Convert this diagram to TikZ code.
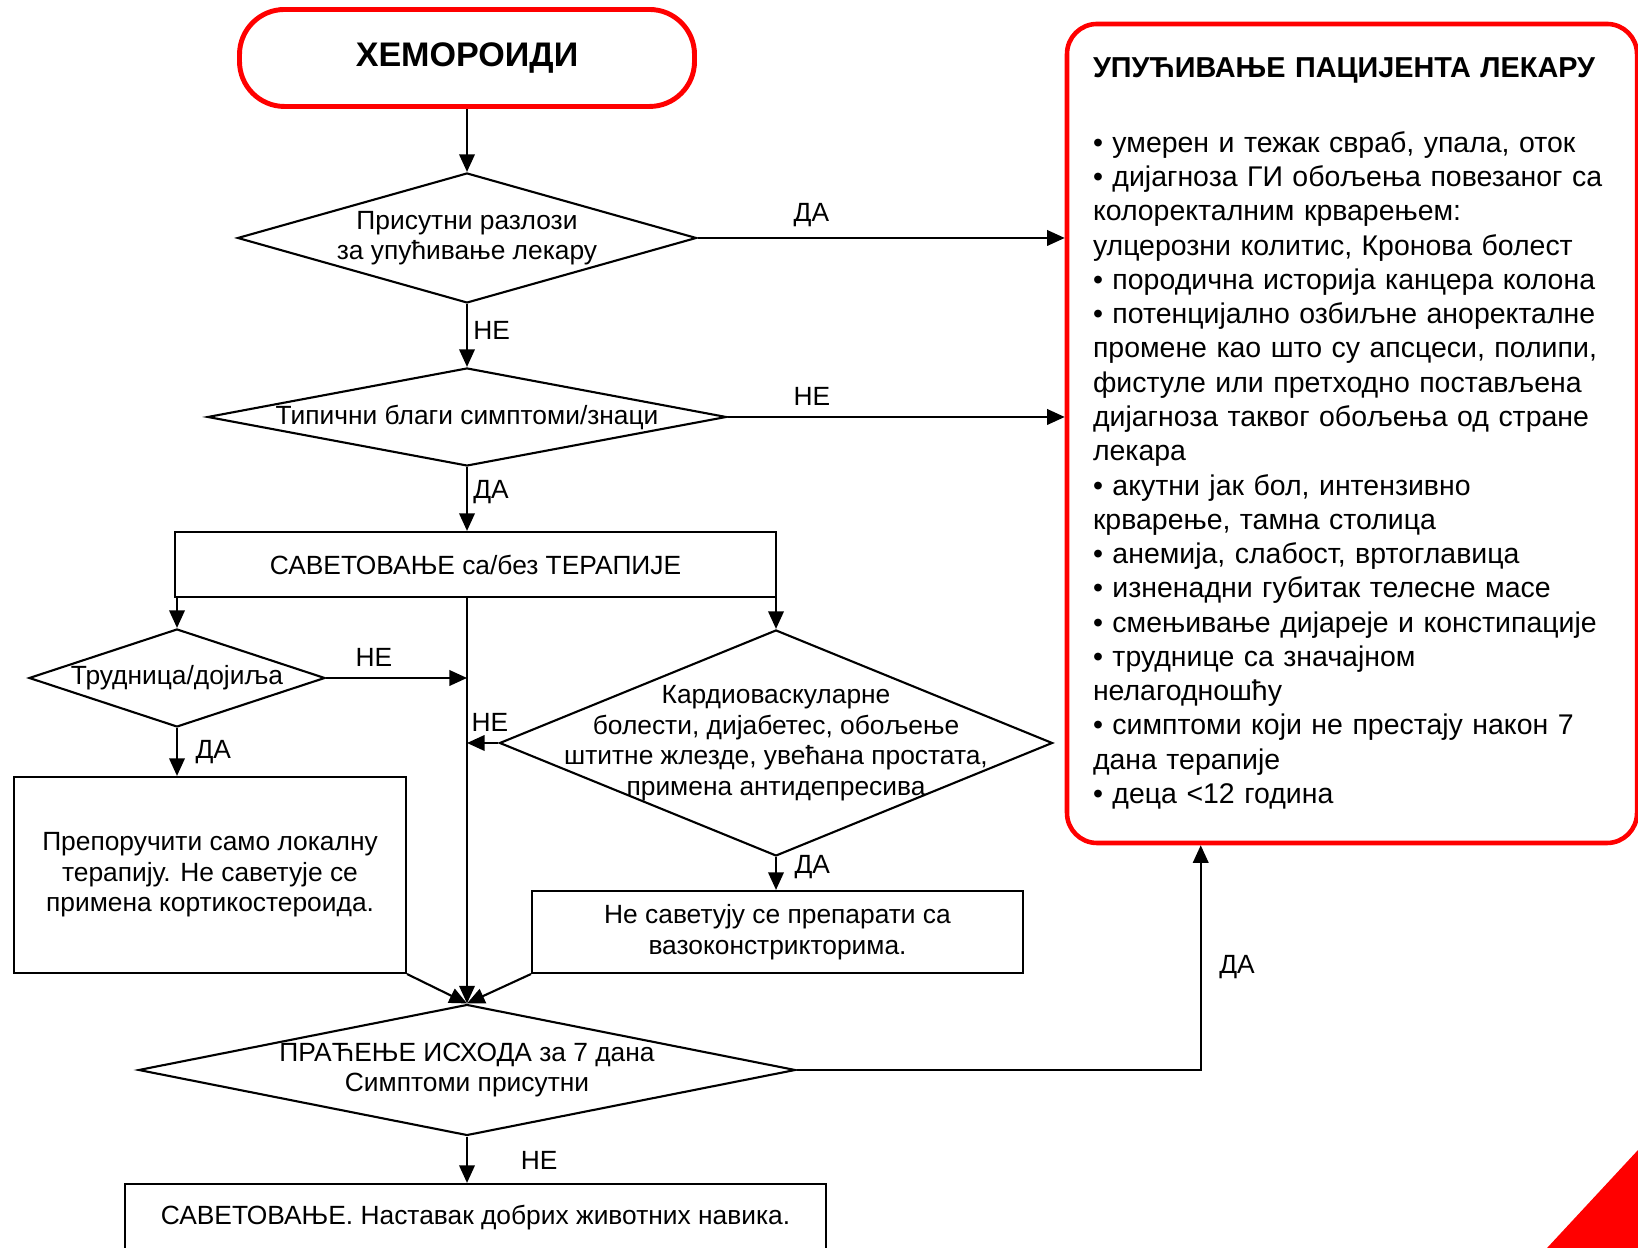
\documentclass[tikz,border=0pt]{standalone}
\usepackage{fontspec}
\setmainfont{Liberation Sans}
\usetikzlibrary{arrows.meta,shapes.geometric,calc}
\definecolor{ink}{HTML}{000000}
\definecolor{alarm}{HTML}{FF0000}

\begin{document}
\begin{tikzpicture}[x=1cm,y=1cm,
  font=\fontsize{7.5}{8.7}\selectfont, text=ink,
  flow/.style={-{Triangle[length=5pt,width=4.4pt]}, line width=0.6pt, draw=ink},
  box/.style={draw=ink, line width=0.6pt, align=center, inner sep=2pt},
  test/.style={diamond, draw=ink, line width=0.6pt, align=center,
               inner xsep=-2.5cm, inner ysep=-0.6cm},
  term/.style={draw=alarm, line width=1.4pt, rounded corners=0.45cm, align=center,
               font=\fontsize{9.7}{11}\selectfont\bfseries},
  refer/.style={draw=alarm, line width=1.3pt, rounded corners=0.3cm, align=left,
                font=\fontsize{8.1}{9.75}\selectfont},
  ans/.style={inner sep=1pt}]

\path[use as bounding box] (0,0) rectangle (16.38,12.48);

% ------------------------------------------------------------------ main column
\node[term, minimum width=4.55cm, minimum height=0.97cm] (start) at (4.67,11.90)
  {ХЕМОРОИДИ};
\node[test, minimum width=4.59cm, minimum height=1.30cm] (q1) at (4.67,10.10)
  {Присутни разлози\\за упућивање лекару};
\node[test, minimum width=5.19cm, minimum height=0.98cm] (q2) at (4.67,8.31)
  {Типични благи симптоми/знаци};
\node[box, minimum width=6.01cm, minimum height=0.65cm] (advise) at (4.755,6.835)
  {САВЕТОВАЊЕ са/без ТЕРАПИЈЕ};

% left branch
\node[test, minimum width=2.96cm, minimum height=0.98cm] (preg) at (1.77,5.70)
  {Трудница/дојиља};
\node[box, minimum width=3.92cm, minimum height=1.96cm] (local) at (2.10,3.73)
  {Препоручити само локалну\\терапију. Не саветује се\\примена кортикостероида.};

% right branch
\node[test, minimum width=5.53cm, minimum height=2.26cm] (cardio) at (7.76,5.05)
  {Кардиоваскуларне\\болести, дијабетес, обољење\\штитне жлезде, увећана простата,\\примена антидепресива};
\node[box, minimum width=4.91cm, minimum height=0.82cm] (vaso) at (7.775,3.16)
  {Не саветују се препарати са\\вазоконстрикторима.};

% outcome
\node[test, minimum width=6.57cm, minimum height=1.31cm] (watch) at (4.67,1.78)
  {ПРАЋЕЊЕ ИСХОДА за 7 дана\\Симптоми присутни};
\node[box, minimum width=7.01cm, minimum height=0.68cm] (keep) at (4.755,0.30)
  {САВЕТОВАЊЕ. Наставак добрих животних навика.};

% ------------------------------------------------------------------ referral box
\node[refer, minimum width=5.70cm, minimum height=8.19cm, text width=5.18cm,
      inner xsep=0.26cm] (doctor) at (13.52,8.145)
  {{\fontsize{8.2}{9.75}\selectfont\bfseries УПУЋИВАЊЕ ПАЦИЈЕНТА ЛЕКАРУ}\\[11.5pt]
   • умерен и тежак свраб, упала, оток\\
   • дијагноза ГИ обољења повезаног са\\
   колоректалним крварењем:\\
   улцерозни колитис, Кронова болест\\
   • породична историја канцера колона\\
   • потенцијално озбиљне аноректалне\\
   промене као што су апсцеси, полипи,\\
   фистуле или претходно постављена\\
   дијагноза таквог обољења од стране\\
   лекара\\
   • акутни јак бол, интензивно\\
   крварење, тамна столица\\
   • анемија, слабост, вртоглавица\\
   • изненадни губитак телесне масе\\
   • смењивање дијареје и констипације\\
   • труднице са значајном\\
   нелагодношћу\\
   • симптоми који не престају након 7\\
   дана терапије\\
   • деца <12 година};

% ------------------------------------------------------------------ connectors
\draw[flow] (start.south) -- (q1.north);
\draw[flow] (q1.east) -- (q1.east -| doctor.west)
  node[ans, pos=0.31, above=2pt] {ДА};
\draw[flow] (q1.south) -- (q2.north)
  node[ans, pos=0.42, right=0.5pt] {НЕ};
\draw[flow] (q2.east) -- (q2.east -| doctor.west)
  node[ans, pos=0.25, above=2pt] {НЕ};
\draw[flow] (q2.south) -- (q2.south |- advise.north)
  node[ans, pos=0.39, right=0.5pt] {ДА};

\draw[flow] (advise.south -| preg.north) -- (preg.north);
\draw[flow] (advise.south -| cardio.north) -- (cardio.north);
\draw[flow] (advise.south -| watch.north) -- (watch.north);

\draw[flow] (preg.east) -- (preg.east -| watch.north)
  node[ans, pos=0.34, above=2pt] {НЕ};
\draw[flow] (preg.south) -- (preg.south |- local.north)
  node[ans, midway, right=4pt] {ДА};
\draw[flow] (cardio.west) -- (cardio.west -| watch.north)
  node[ans, at end, anchor=south west, yshift=2pt] {НЕ};
\draw[flow] (cardio.south) -- (cardio.south |- vaso.north)
  node[ans, pos=0.31, right=4pt] {ДА};

\draw[flow] (local.south east) -- (watch.north);
\draw[flow] (vaso.south west) -- (watch.north);

\draw[flow] (watch.east) -| ([xshift=1.36cm]doctor.south west)
  node[ans, pos=0.73, right=4pt] {ДА};
\draw[flow] (watch.south) -- (watch.south |- keep.north)
  node[ans, pos=0.52, right=14pt] {НЕ};

% corner mark
\fill[alarm] (15.47,0) -- (16.38,0.98) -- (16.38,0) -- cycle;
\end{tikzpicture}
\end{document}
